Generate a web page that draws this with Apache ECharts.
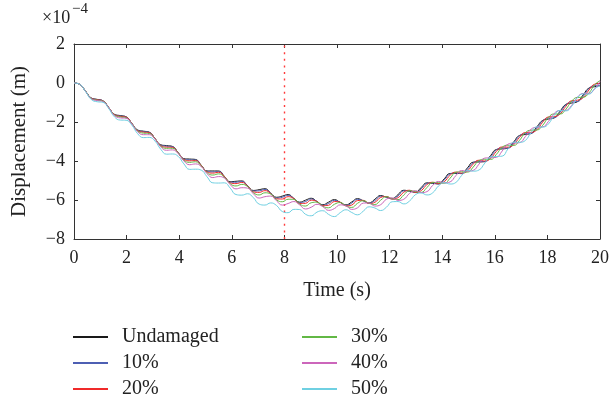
<!DOCTYPE html>
<html>
<head>
<meta charset="utf-8">
<script src="https://cdn.jsdelivr.net/npm/echarts@6/dist/echarts.min.js"></script>
<style>
  html, body { margin: 0; padding: 0; background: #fff; }
  #chart { width: 612px; height: 400px; }
</style>
</head>
<body>
<div id="chart"></div>
<script>
// Midspan displacement (×10^-4 m) under a moving load, sampled every 0.22 s
const time = [
  0, 0.22, 0.44, 0.66, 0.88, 1.1, 1.32, 1.54, 1.76, 1.98,
  2.2, 2.42, 2.64, 2.86, 3.08, 3.3, 3.52, 3.74, 3.96, 4.18,
  4.4, 4.62, 4.84, 5.06, 5.28, 5.5, 5.72, 5.94, 6.16, 6.38,
  6.6, 6.82, 7.04, 7.26, 7.48, 7.7, 7.92, 8.14, 8.36, 8.58,
  8.8, 9.02, 9.24, 9.46, 9.68, 9.9, 10.12, 10.34, 10.56, 10.78,
  11.0, 11.22, 11.44, 11.66, 11.88, 12.1, 12.32, 12.54, 12.76, 12.98,
  13.2, 13.42, 13.64, 13.86, 14.08, 14.3, 14.52, 14.74, 14.96, 15.18,
  15.4, 15.62, 15.84, 16.06, 16.28, 16.5, 16.72, 16.94, 17.16, 17.38,
  17.6, 17.82, 18.04, 18.26, 18.48, 18.7, 18.92, 19.14, 19.36, 19.58,
  19.8, 20
];

const undamaged = [
  0, -0.07, -0.42, -0.77, -0.84, -0.91, -1.26, -1.61, -1.67, -1.73,
  -2.07, -2.41, -2.47, -2.52, -2.85, -3.17, -3.21, -3.25, -3.57, -3.88,
  -3.90, -3.92, -4.22, -4.51, -4.51, -4.51, -4.79, -5.06, -5.04, -5.02,
  -5.27, -5.51, -5.47, -5.42, -5.65, -5.86, -5.80, -5.72, -5.92, -6.11,
  -6.01, -5.91, -6.08, -6.24, -6.11, -5.98, -6.12, -6.25, -6.10, -5.93,
  -6.04, -6.15, -5.96, -5.77, -5.86, -5.93, -5.72, -5.50, -5.55, -5.60,
  -5.36, -5.12, -5.15, -5.17, -4.91, -4.64, -4.64, -4.64, -4.35, -4.06,
  -4.05, -4.03, -3.72, -3.41, -3.38, -3.34, -3.02, -2.69, -2.64, -2.59,
  -2.25, -1.92, -1.85, -1.79, -1.45, -1.10, -1.03, -0.96, -0.61, -0.26,
  -0.19, -0.14
];

const damage10 = [
  0, -0.07, -0.42, -0.78, -0.85, -0.92, -1.26, -1.61, -1.69, -1.74,
  -2.08, -2.42, -2.49, -2.53, -2.85, -3.19, -3.24, -3.27, -3.57, -3.90,
  -3.94, -3.95, -4.23, -4.53, -4.56, -4.54, -4.80, -5.09, -5.09, -5.05,
  -5.28, -5.54, -5.53, -5.46, -5.66, -5.90, -5.86, -5.76, -5.93, -6.14,
  -6.08, -5.95, -6.08, -6.27, -6.18, -6.02, -6.12, -6.28, -6.16, -5.97,
  -6.04, -6.17, -6.03, -5.81, -5.84, -5.95, -5.79, -5.53, -5.53, -5.62,
  -5.43, -5.15, -5.12, -5.18, -4.97, -4.66, -4.61, -4.65, -4.42, -4.09,
  -4.01, -4.03, -3.79, -3.43, -3.33, -3.34, -3.08, -2.71, -2.59, -2.58,
  -2.32, -1.94, -1.80, -1.78, -1.51, -1.12, -0.97, -0.95, -0.68, -0.28,
  -0.13, -0.11
];

const damage20 = [
  0, -0.07, -0.42, -0.78, -0.86, -0.92, -1.26, -1.62, -1.71, -1.75,
  -2.08, -2.44, -2.52, -2.55, -2.85, -3.21, -3.29, -3.30, -3.58, -3.92,
  -3.99, -3.98, -4.23, -4.56, -4.62, -4.58, -4.80, -5.12, -5.16, -5.10,
  -5.28, -5.58, -5.61, -5.52, -5.67, -5.94, -5.95, -5.83, -5.93, -6.18,
  -6.17, -6.01, -6.08, -6.29, -6.27, -6.08, -6.11, -6.30, -6.26, -6.03,
  -6.02, -6.18, -6.12, -5.87, -5.82, -5.95, -5.88, -5.60, -5.50, -5.61,
  -5.52, -5.21, -5.09, -5.16, -5.06, -4.73, -4.57, -4.62, -4.51, -4.16,
  -3.96, -4.00, -3.87, -3.51, -3.28, -3.29, -3.16, -2.79, -2.54, -2.53,
  -2.40, -2.01, -1.74, -1.72, -1.59, -1.20, -0.91, -0.88, -0.75, -0.36,
  -0.06, -0.02
];

const damage30 = [
  0, -0.07, -0.42, -0.79, -0.88, -0.93, -1.27, -1.64, -1.74, -1.78,
  -2.08, -2.46, -2.57, -2.59, -2.86, -3.24, -3.35, -3.35, -3.59, -3.96,
  -4.07, -4.04, -4.25, -4.60, -4.72, -4.66, -4.83, -5.16, -5.28, -5.20,
  -5.31, -5.62, -5.74, -5.63, -5.70, -5.99, -6.09, -5.96, -5.97, -6.21,
  -6.31, -6.14, -6.11, -6.32, -6.40, -6.22, -6.13, -6.30, -6.38, -6.17,
  -6.04, -6.17, -6.23, -6.01, -5.83, -5.93, -5.98, -5.74, -5.52, -5.57,
  -5.61, -5.36, -5.10, -5.11, -5.14, -4.88, -4.58, -4.55, -4.57, -4.31,
  -3.98, -3.91, -3.92, -3.66, -3.30, -3.19, -3.20, -2.94, -2.55, -2.42,
  -2.41, -2.17, -1.76, -1.59, -1.59, -1.35, -0.94, -0.74, -0.73, -0.51,
  -0.09, 0.12
];

const damage40 = [
  0, -0.07, -0.43, -0.81, -0.90, -0.95, -1.27, -1.67, -1.79, -1.81,
  -2.10, -2.50, -2.65, -2.65, -2.88, -3.28, -3.45, -3.43, -3.62, -4.00,
  -4.19, -4.15, -4.29, -4.65, -4.85, -4.80, -4.88, -5.21, -5.43, -5.37,
  -5.39, -5.68, -5.90, -5.83, -5.80, -6.04, -6.26, -6.18, -6.08, -6.25,
  -6.46, -6.37, -6.22, -6.34, -6.53, -6.44, -6.25, -6.30, -6.48, -6.40,
  -6.16, -6.15, -6.31, -6.24, -5.96, -5.89, -6.02, -5.96, -5.66, -5.52,
  -5.62, -5.57, -5.25, -5.05, -5.12, -5.07, -4.75, -4.49, -4.52, -4.48,
  -4.16, -3.85, -3.83, -3.81, -3.49, -3.14, -3.08, -3.06, -2.75, -2.37,
  -2.27, -2.25, -1.97, -1.56, -1.41, -1.40, -1.15, -0.73, -0.54, -0.53,
  -0.30, 0.09
];

const damage50 = [
  0, -0.07, -0.44, -0.85, -0.96, -0.99, -1.31, -1.74, -1.90, -1.91,
  -2.16, -2.60, -2.80, -2.79, -2.98, -3.40, -3.65, -3.64, -3.76, -4.15,
  -4.43, -4.42, -4.47, -4.81, -5.12, -5.13, -5.12, -5.39, -5.72, -5.75,
  -5.68, -5.88, -6.21, -6.26, -6.15, -6.28, -6.59, -6.65, -6.48, -6.49,
  -6.73, -6.81, -6.62, -6.55, -6.74, -6.85, -6.65, -6.50, -6.64, -6.76,
  -6.57, -6.35, -6.41, -6.54, -6.37, -6.09, -6.08, -6.20, -6.05, -5.73,
  -5.64, -5.74, -5.63, -5.28, -5.11, -5.18, -5.10, -4.74, -4.49, -4.52,
  -4.46, -4.11, -3.80, -3.77, -3.75, -3.38, -3.04, -3.04, -2.95, -2.54,
  -2.25, -2.26, -2.10, -1.65, -1.41, -1.43, -1.20, -0.75, -0.56, -0.57,
  -0.28, -0.15
];

const seriesNames = ['Undamaged', '10%', '20%', '30%', '40%', '50%'];
const seriesValues = [undamaged, damage10, damage20, damage30, damage40, damage50];
const seriesColors = ['#1a1a1a', '#4d5fb3', '#f02a2a', '#62b845', '#cc66bb', '#6fd0e2'];

// Damage location marker on the time axis
const damageTime = 8;

const xTicks = { min: 0, max: 20, interval: 2 };
const yTicks = { min: -8, max: 2, interval: 2 };

const FONT = 'Liberation Serif';
const INK = '#222';

function minusFmt(v) {
  return v < 0 ? '\u2212' + Math.abs(v) : String(v);
}

const series = seriesNames.map((name, i) => {
  const s = {
    name: name,
    type: 'line',
    xAxisIndex: 0,
    yAxisIndex: 0,
    data: time.map((t, j) => [t, seriesValues[i][j]]),
    showSymbol: false,
    symbol: 'none',
    smooth: 0.5,
    lineStyle: { color: seriesColors[i], width: 1 },
    itemStyle: { color: seriesColors[i] },
    animation: false,
    z: 2 + i
  };
  if (i === 0) {
    s.markLine = {
      silent: true,
      symbol: ['none', 'none'],
      label: { show: false },
      lineStyle: { color: '#ff3b3b', type: [2, 4.6], width: 1.4 },
      data: [{ xAxis: damageTime }],
      animation: false
    };
  }
  return s;
});

const axisLine = { show: true, onZero: false, lineStyle: { color: '#333', width: 1 } };
const axisTick = { show: true, inside: true, length: 4, lineStyle: { color: '#333', width: 1 } };

const legendBase = {
  orient: 'vertical', top: 327, padding: 0,
  icon: 'rect', itemWidth: 35, itemHeight: 2, itemGap: 6,
  textStyle: { color: INK, fontFamily: FONT, fontSize: 20, padding: [0, 0, 0, 9] }
};

const option = {
  backgroundColor: '#fff',
  animation: false,
  grid: { left: 74, right: 10, top: 44, bottom: 161, containLabel: false },
  xAxis: [
    {
      type: 'value', position: 'bottom',
      min: xTicks.min, max: xTicks.max, interval: xTicks.interval,
      axisLine: axisLine, axisTick: axisTick, splitLine: { show: false },
      axisLabel: { color: INK, fontFamily: FONT, fontSize: 18, margin: 10 },
      name: 'Time (s)', nameLocation: 'middle', nameGap: 42,
      nameTextStyle: { color: INK, fontFamily: FONT, fontSize: 20 }
    },
    {
      type: 'value', position: 'top',
      min: xTicks.min, max: xTicks.max, interval: xTicks.interval,
      axisLine: axisLine, axisTick: axisTick, splitLine: { show: false },
      axisLabel: { show: false }
    }
  ],
  yAxis: [
    {
      type: 'value', position: 'left',
      min: yTicks.min, max: yTicks.max, interval: yTicks.interval,
      axisLine: axisLine, axisTick: axisTick, splitLine: { show: false },
      axisLabel: { color: INK, fontFamily: FONT, fontSize: 18, margin: 9, formatter: minusFmt },
      name: 'Displacement (m)', nameLocation: 'middle', nameGap: 44,
      nameTextStyle: { color: INK, fontFamily: FONT, fontSize: 21 }
    },
    {
      type: 'value', position: 'right',
      min: yTicks.min, max: yTicks.max, interval: yTicks.interval,
      axisLine: axisLine, axisTick: axisTick, splitLine: { show: false },
      axisLabel: { show: false }
    }
  ],
  legend: [
    Object.assign({}, legendBase, { left: 73, data: seriesNames.slice(0, 3) }),
    Object.assign({}, legendBase, { left: 302, data: seriesNames.slice(3) })
  ],
  graphic: [
    {
      type: 'text', left: 42, top: 9,
      style: { text: '\u00d710', fontFamily: FONT, fontSize: 18, fill: INK }
    },
    {
      type: 'text', left: 72, top: 2,
      style: { text: '\u22124', fontFamily: FONT, fontSize: 15, fill: INK }
    }
  ],
  series: series
};

const chart = echarts.init(document.getElementById('chart'), null, { renderer: 'canvas' });
chart.setOption(option);
</script>
</body>
</html>
